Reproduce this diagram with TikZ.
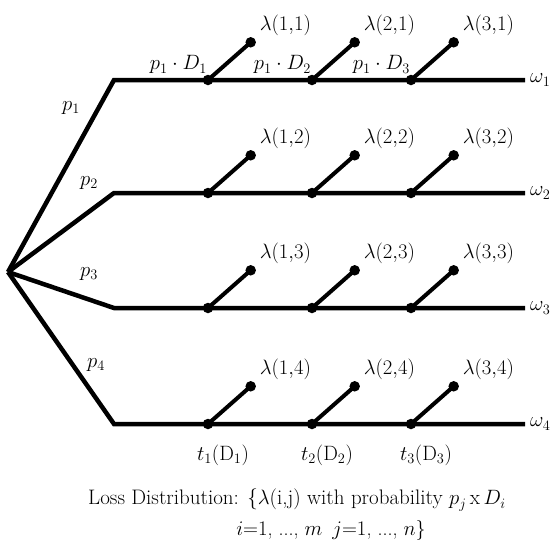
\documentclass[tikz,border=0pt]{standalone}
\usetikzlibrary{positioning}

\begin{document}
\begin{tikzpicture}[x=1pt, y=1pt, font=\fontsize{20}{24}\selectfont,
        dot/.style={circle, fill=black, inner sep=0pt, minimum size=10.5pt},
        branch/.style={line width=4.5pt, line join=miter},
        stem/.style={line width=4pt},
        lbl/.style={inner sep=2pt}
    ]
    \useasboundingbox (0,0) rectangle (555,-547);

    % Root and branch corners
    \coordinate (root) at (8,-272);
    \coordinate (c1) at (114,-80);
    \coordinate (c2) at (114,-193);
    \coordinate (c3) at (114,-308);
    \coordinate (c4) at (114,-424);

    % Outcomes
    \node[lbl, anchor=west, inner sep=5pt] (w1) at (525,-80) {$\omega_1$};
    \node[lbl, anchor=west, inner sep=5pt] (w2) at (525,-193) {$\omega_2$};
    \node[lbl, anchor=west, inner sep=5pt] (w3) at (525,-308) {$\omega_3$};
    \node[lbl, anchor=west, inner sep=5pt] (w4) at (525,-424) {$\omega_4$};

    % Branch probabilities
    \node[lbl, font=\fontsize{22}{26}\selectfont] (p1) at (71,-108) {$p_1$};
    \node[lbl, font=\fontsize{22}{26}\selectfont] (p2) at (89,-183) {$p_2$};
    \node[lbl, font=\fontsize{22}{26}\selectfont] (p3) at (89,-274) {$p_3$};
    \node[lbl, font=\fontsize{22}{26}\selectfont] (p4) at (96,-365) {$p_4$};

    % Branches
    \draw[branch] (root) -- (c1) -- (w1.west);
    \draw[branch] (root) -- (c2) -- (w2.west);
    \draw[branch] (root) -- (c3) -- (w3.west);
    \draw[branch] (root) -- (c4) -- (w4.west);

    % Default times, row 1
    \node[dot] (e11) at (208,-80) {};
    \node[dot] (e21) at (312,-80) {};
    \node[dot] (e31) at (411,-80) {};
    \node[dot, above right=30pt and 35pt of e11] (l11) {};
    \node[dot, above right=30pt and 35pt of e21] (l21) {};
    \node[dot, above right=30pt and 35pt of e31] (l31) {};
    \node[lbl, above right=1pt and 3pt of l11] (lam11) {$\lambda(1{,}1)$};
    \node[lbl, above right=1pt and 3pt of l21] (lam21) {$\lambda(2{,}1)$};
    \node[lbl, above right=1pt and 3pt of l31] (lam31) {$\lambda(3{,}1)$};
    \node[lbl, above left=0pt and -5pt of e11] (pd1) {$p_1\cdot D_1$};
    \node[lbl, above left=0pt and -5pt of e21] (pd2) {$p_1\cdot D_2$};
    \node[lbl, above left=0pt and -5pt of e31] (pd3) {$p_1\cdot D_3$};

    % Row 2
    \node[dot] (e12) at (208,-193) {};
    \node[dot] (e22) at (312,-193) {};
    \node[dot] (e32) at (411,-193) {};
    \node[dot, above right=30pt and 35pt of e12] (l12) {};
    \node[dot, above right=30pt and 35pt of e22] (l22) {};
    \node[dot, above right=30pt and 35pt of e32] (l32) {};
    \node[lbl, above right=1pt and 3pt of l12] (lam12) {$\lambda(1{,}2)$};
    \node[lbl, above right=1pt and 3pt of l22] (lam22) {$\lambda(2{,}2)$};
    \node[lbl, above right=1pt and 3pt of l32] (lam32) {$\lambda(3{,}2)$};

    % Row 3
    \node[dot] (e13) at (208,-308) {};
    \node[dot] (e23) at (312,-308) {};
    \node[dot] (e33) at (411,-308) {};
    \node[dot, above right=30pt and 35pt of e13] (l13) {};
    \node[dot, above right=30pt and 35pt of e23] (l23) {};
    \node[dot, above right=30pt and 35pt of e33] (l33) {};
    \node[lbl, above right=1pt and 3pt of l13] (lam13) {$\lambda(1{,}3)$};
    \node[lbl, above right=1pt and 3pt of l23] (lam23) {$\lambda(2{,}3)$};
    \node[lbl, above right=1pt and 3pt of l33] (lam33) {$\lambda(3{,}3)$};

    % Row 4
    \node[dot] (e14) at (208,-424) {};
    \node[dot] (e24) at (312,-424) {};
    \node[dot] (e34) at (411,-424) {};
    \node[dot, above right=30pt and 35pt of e14] (l14) {};
    \node[dot, above right=30pt and 35pt of e24] (l24) {};
    \node[dot, above right=30pt and 35pt of e34] (l34) {};
    \node[lbl, above right=1pt and 3pt of l14] (lam14) {$\lambda(1{,}4)$};
    \node[lbl, above right=1pt and 3pt of l24] (lam24) {$\lambda(2{,}4)$};
    \node[lbl, above right=1pt and 3pt of l34] (lam34) {$\lambda(3{,}4)$};
    \node[lbl, below=13pt of e14, xshift=15pt] (t1) {$t_1(\mathrm{D}_1)$};
    \node[lbl, below=13pt of e24, xshift=15pt] (t2) {$t_2(\mathrm{D}_2)$};
    \node[lbl, below=13pt of e34, xshift=15pt] (t3) {$t_3(\mathrm{D}_3)$};

    % Stems
    \draw[stem] (e11.center) -- (l11.center);
    \draw[stem] (e21.center) -- (l21.center);
    \draw[stem] (e31.center) -- (l31.center);
    \draw[stem] (e12.center) -- (l12.center);
    \draw[stem] (e22.center) -- (l22.center);
    \draw[stem] (e32.center) -- (l32.center);
    \draw[stem] (e13.center) -- (l13.center);
    \draw[stem] (e23.center) -- (l23.center);
    \draw[stem] (e33.center) -- (l33.center);
    \draw[stem] (e14.center) -- (l14.center);
    \draw[stem] (e24.center) -- (l24.center);
    \draw[stem] (e34.center) -- (l34.center);

    % Caption
    \node[lbl, font=\fontsize{21}{25}\selectfont] (cap1) at (297,-500) {Loss Distribution: \{$\lambda$(i,j) with probability $p_j$\,x\,$D_i$};
    \node[lbl] (cap2) at (331,-530) {$i{=}1$, ..., $m$\enspace $j{=}1$, ..., $n$\}};

\end{tikzpicture}
\end{document}
